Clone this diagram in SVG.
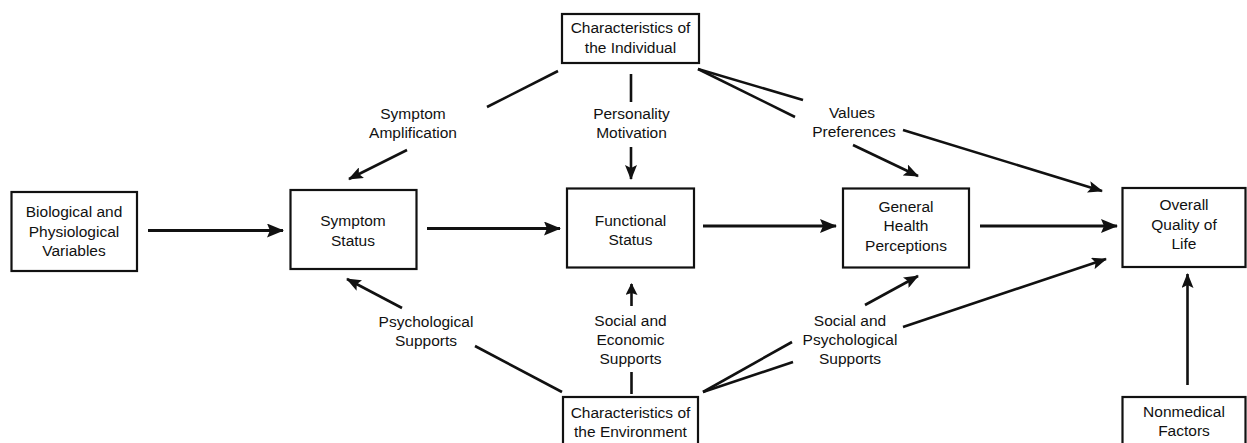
<svg xmlns="http://www.w3.org/2000/svg" width="1247" height="443" viewBox="0 0 1247 443">
<style>
.box{fill:#fff;stroke:#111;stroke-width:2.2}
.t{font-family:"Liberation Sans",Arial,sans-serif;font-size:15.5px;fill:#111;text-anchor:middle}
.main{stroke:#111;stroke-width:3;fill:none}
.ln{stroke:#111;stroke-width:2.6;fill:none}
</style>
<defs>
<marker id="big" markerUnits="userSpaceOnUse" markerWidth="18" markerHeight="14" refX="16" refY="7" orient="auto">
<path d="M0,0 L17,7 L0,14 L3,7 z" fill="#111"/>
</marker>
<marker id="med" markerUnits="userSpaceOnUse" markerWidth="16" markerHeight="12" refX="14" refY="6" orient="auto">
<path d="M0,0 L15,6 L0,12 L3,6 z" fill="#111"/>
</marker>
<marker id="sm" markerUnits="userSpaceOnUse" markerWidth="12" markerHeight="12" refX="11" refY="6" orient="auto">
<path d="M0,0 L12,6 L0,12 L2,6 z" fill="#111"/>
</marker>
</defs>
<rect width="1247" height="443" fill="#fff"/>
<g id="connectors">
<line class="main" x1="148" y1="230.5" x2="283" y2="230.5" marker-end="url(#big)"/>
<line class="main" x1="427" y1="228.5" x2="560" y2="228.5" marker-end="url(#big)"/>
<line class="main" x1="703" y1="226" x2="836" y2="226" marker-end="url(#big)"/>
<line class="main" x1="980" y1="226" x2="1117" y2="226" marker-end="url(#big)"/>
<line class="ln" x1="558" y1="71" x2="487" y2="107"/>
<line class="ln" x1="407" y1="150" x2="349" y2="179" marker-end="url(#med)"/>
<line class="ln" x1="631" y1="74" x2="631" y2="102"/>
<line class="ln" x1="631" y1="147" x2="631" y2="179" marker-end="url(#med)"/>
<line class="ln" x1="698" y1="69" x2="803" y2="100"/>
<line class="ln" x1="698" y1="69" x2="795" y2="117"/>
<line class="ln" x1="903" y1="130" x2="1102" y2="191" marker-end="url(#med)"/>
<line class="ln" x1="853" y1="145" x2="918" y2="176" marker-end="url(#med)"/>
<line class="ln" x1="475" y1="346" x2="562" y2="392"/>
<line class="ln" x1="402" y1="308" x2="347" y2="279" marker-end="url(#med)"/>
<line class="ln" x1="631.5" y1="372" x2="631.5" y2="394"/>
<line class="ln" x1="631.5" y1="306" x2="631.5" y2="284" marker-end="url(#sm)"/>
<line class="ln" x1="703" y1="392" x2="792" y2="342"/>
<line class="ln" x1="703" y1="392" x2="793" y2="362"/>
<line class="ln" x1="865" y1="305" x2="918" y2="276" marker-end="url(#med)"/>
<line class="ln" x1="903" y1="327" x2="1106" y2="259" marker-end="url(#med)"/>
<line class="ln" x1="1187.5" y1="385" x2="1187.5" y2="274" marker-end="url(#med)"/>
</g>
<g id="char-individual">
<rect class="box" x="562" y="14" width="137" height="49"/>
<text class="t" x="630.5" y="33">Characteristics of</text>
<text class="t" x="630.5" y="53">the Individual</text>
</g>
<g id="biological">
<rect class="box" x="11.5" y="192" width="125.5" height="79"/>
<text class="t" x="74" y="217">Biological and</text>
<text class="t" x="74" y="237">Physiological</text>
<text class="t" x="74" y="256">Variables</text>
</g>
<g id="symptom-status">
<rect class="box" x="290.5" y="190" width="126" height="79"/>
<text class="t" x="353" y="226">Symptom</text>
<text class="t" x="353" y="246">Status</text>
</g>
<g id="functional-status">
<rect class="box" x="567" y="188.5" width="127" height="79"/>
<text class="t" x="630.5" y="226">Functional</text>
<text class="t" x="630.5" y="245">Status</text>
</g>
<g id="general-health">
<rect class="box" x="843" y="188.5" width="126" height="79"/>
<text class="t" x="906" y="212">General</text>
<text class="t" x="906" y="231">Health</text>
<text class="t" x="906" y="251">Perceptions</text>
</g>
<g id="overall-qol">
<rect class="box" x="1122.5" y="188" width="123" height="79"/>
<text class="t" x="1184" y="210">Overall</text>
<text class="t" x="1184" y="230">Quality of</text>
<text class="t" x="1184" y="249">Life</text>
</g>
<g id="char-environment">
<rect class="box" x="563" y="397" width="135" height="50"/>
<text class="t" x="630.5" y="418">Characteristics of</text>
<text class="t" x="630.5" y="437">the Environment</text>
</g>
<g id="nonmedical">
<rect class="box" x="1122.5" y="397" width="123" height="50"/>
<text class="t" x="1184" y="417">Nonmedical</text>
<text class="t" x="1184" y="436">Factors</text>
</g>
<g id="labels">
<text class="t" x="413" y="119">Symptom</text>
<text class="t" x="413" y="138">Amplification</text>
<text class="t" x="631.5" y="119">Personality</text>
<text class="t" x="631.5" y="138">Motivation</text>
<text class="t" x="852" y="118">Values</text>
<text class="t" x="854" y="137">Preferences</text>
<text class="t" x="426" y="327">Psychological</text>
<text class="t" x="426" y="346">Supports</text>
<text class="t" x="630.5" y="326">Social and</text>
<text class="t" x="630.5" y="345">Economic</text>
<text class="t" x="630.5" y="364">Supports</text>
<text class="t" x="850" y="326">Social and</text>
<text class="t" x="850" y="345">Psychological</text>
<text class="t" x="850" y="364">Supports</text>
</g>
</svg>
